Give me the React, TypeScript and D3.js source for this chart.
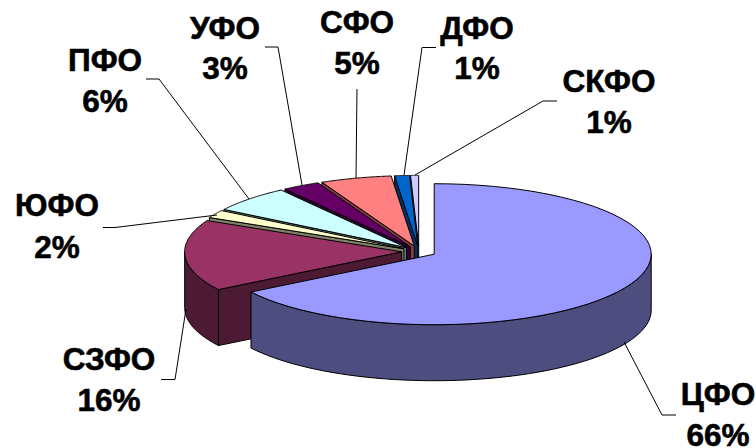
import React from "react";
import * as d3 from "d3";

const regions = ["ЦФО", "СЗФО", "ЮФО", "ПФО", "УФО", "СФО", "ДФО", "СКФО"];
const shares = [66, 16.3, 1.8, 6.1, 2.8, 5.3, 1.1, 0.6];
const percentLabels = ["66%", "16%", "2%", "6%", "3%", "5%", "1%", "1%"];
const topColors = ["#9999FF", "#993366", "#FFFFCC", "#CCFFFF", "#660066", "#FF8080", "#0066CC", "#CCCCFF"];
const sideColors = ["#4D4D80", "#4D1A33", "#808066", "#668080", "#330033", "#804040", "#003366", "#666680"];

// label layout: centre x, first baseline, second baseline
const labelX = [718, 109, 57, 105, 225, 357, 477, 609];
const labelY1 = [405, 370, 216, 71, 39, 33, 39, 92];
const labelY2 = [446, 411, 258, 112, 79, 74, 79, 133];
const leaders: [number, number][][] = [
  [[624, 342], [662, 415], [676, 415]],
  [[186, 309], [175, 379.5], [161, 379.5]],
  [[217, 215], [115, 227.5], [103, 227.5]],
  [[249, 199], [159, 79], [146, 79]],
  [[302, 185], [278, 47], [265, 47]],
  [[356, 178], [357, 89]],
  [[404, 175], [422, 47.5], [436, 47.5]],
  [[415, 175], [543, 101], [557, 101]],
];

const CX = 419, CY = 251.5, RX = 217, RY = 70.5, DEPTH = 56, EXPLODE = 0.08;

const pie = d3.pie<number>().sort(null)(shares);
const line = d3.line();

export default function App() {
  const slices = pie.map((p, i) => {
    const mid = (p.startAngle + p.endAngle) / 2;
    const ox = CX + EXPLODE * RX * Math.sin(mid);
    const oy = CY - EXPLODE * RY * Math.cos(mid);
    const pt = (a: number, dz = 0): [number, number] => [ox + RX * Math.sin(a), oy - RY * Math.cos(a) + dz];
    const arcPts = (a0: number, a1: number, dz = 0) =>
      d3.range(0, 61).map((k) => pt(a0 + ((a1 - a0) * k) / 60, dz));
    const top = line([[ox, oy], ...arcPts(p.startAngle, p.endAngle)]) + "Z";
    const w0 = Math.max(p.startAngle, Math.PI / 2);
    const w1 = Math.min(p.endAngle, (3 * Math.PI) / 2);
    const wall =
      w1 > w0 ? line([...arcPts(w0, w1), ...arcPts(w1, w0, DEPTH)]) + "Z" : null;
    const face =
      i > 0
        ? line([[ox, oy], pt(p.startAngle), pt(p.startAngle, DEPTH), [ox, oy + DEPTH]]) + "Z"
        : null;
    return { i, top, wall, face };
  });
  const order = [...slices.slice(1)].reverse().concat(slices[0]);
  const stroke = { stroke: "#000", strokeWidth: 1, strokeLinejoin: "round" as const };

  return (
    <svg
      width={756}
      height={448}
      style={{ position: "absolute", left: 0, top: 0, background: "#fff" }}
      fontFamily="'Liberation Sans', Arial, sans-serif"
    >
      {order.map((s) => (
        <g key={s.i}>
          {s.face && <path d={s.face} fill={sideColors[s.i]} {...stroke} />}
          {s.wall && <path d={s.wall} fill={sideColors[s.i]} {...stroke} />}
          <path d={s.top} fill={topColors[s.i]} {...stroke} />
        </g>
      ))}
      {leaders.map((l, i) => (
        <path key={i} d={line(l) as string} fill="none" stroke="#000" strokeWidth={1} />
      ))}
      {regions.map((r, i) => (
        <g key={r} textAnchor="middle" fontWeight="bold" fontSize={31.5} fill="#000" stroke="#000" strokeWidth={0.6}>
          <text x={labelX[i]} y={labelY1[i]}>{r}</text>
          <text x={labelX[i]} y={labelY2[i]}>{percentLabels[i]}</text>
        </g>
      ))}
    </svg>
  );
}
